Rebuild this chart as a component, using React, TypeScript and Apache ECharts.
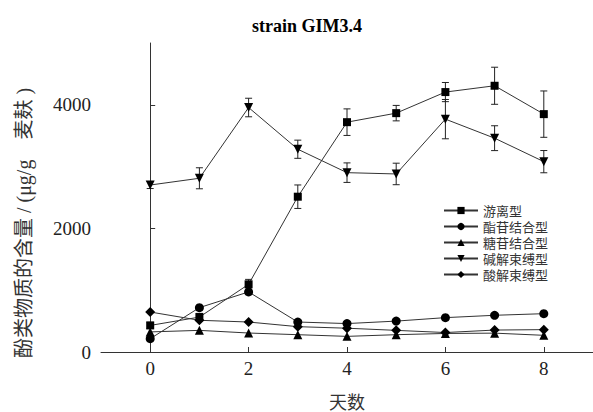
import React, { useEffect, useRef } from "react";
import * as echarts from "echarts";

const days = [0, 1, 2, 3, 4, 5, 6, 7, 8];
const seriesNames = ["游离型", "酯苷结合型", "糖苷结合型", "碱解束缚型", "酸解束缚型"];
const freeVals = [430, 565, 1095, 2513, 3719, 3865, 4206, 4308, 3849];
const freeErr = [50, 60, 80, 190, 215, 125, 155, 300, 375];
const esterVals = [215, 718, 972, 485, 460, 500, 556, 594, 620];
const glycoVals = [325, 350, 307, 280, 253, 280, 300, 305, 270];
const alkaliVals = [2702, 2811, 3956, 3281, 2902, 2881, 3768, 3460, 3080];
const alkaliErr = [57, 170, 150, 147, 158, 174, 318, 201, 180];
const acidVals = [647, 513, 485, 410, 385, 350, 315, 355, 362];
const xTicks = [0, 2, 4, 6, 8];
const yTicks = [0, 2000, 4000];

const SERIF = "'Liberation Serif', 'Noto Sans CJK SC', serif";
const CJK = "'Noto Sans CJK SC', sans-serif";

function pairs(vals: number[]) {
  return days.map((d, i) => [d, vals[i]]);
}
function errPairs(vals: number[], errs: number[]) {
  return days.map((d, i) => [d, vals[i], errs[i]]);
}

const errorRender = (params: any, api: any) => {
  const x = api.value(0);
  const y = api.value(1);
  const e = api.value(2);
  const top = api.coord([x, y + e]);
  const bot = api.coord([x, y - e]);
  const hw = 3.5;
  const style = { stroke: "#222", lineWidth: 1 };
  return {
    type: "group",
    children: [
      { type: "line", shape: { x1: top[0], y1: top[1], x2: bot[0], y2: bot[1] }, style },
      { type: "line", shape: { x1: top[0] - hw, y1: top[1], x2: top[0] + hw, y2: top[1] }, style },
      { type: "line", shape: { x1: bot[0] - hw, y1: bot[1], x2: bot[0] + hw, y2: bot[1] }, style },
    ],
  };
};

export default function App() {
  const ref = useRef<HTMLDivElement>(null);
  useEffect(() => {
    if (!ref.current) return;
    document.body.style.margin = "0";
    const chart = echarts.init(ref.current, null, { renderer: "svg" });
    const lineBase = (name: string, vals: number[], symbol: string, size: number | number[], rotate = 0) => ({
      name,
      type: "line",
      data: pairs(vals),
      symbol,
      symbolSize: size,
      symbolRotate: rotate,
      showSymbol: true,
      lineStyle: { color: "#333", width: 1 },
      itemStyle: { color: "#000", borderWidth: 0 },
      z: 3,
    });
    chart.setOption({
      animation: false,
      title: {
        text: "strain GIM3.4",
        left: 302,
        top: 12,
        textAlign: "center",
        textStyle: { fontFamily: SERIF, fontWeight: "bold", fontSize: 18, color: "#000" },
      },
      grid: { left: 101, right: 0, top: 43, bottom: 60, containLabel: false, outerBoundsMode: "none" },
      legend: {
        data: seriesNames,
        orient: "vertical",
        left: 443,
        top: 204,
        padding: 0,
        itemWidth: 34,
        itemHeight: 9,
        itemGap: 3,
        textStyle: { fontFamily: CJK, fontSize: 13, lineHeight: 12, color: "#333", padding: [0, 0, 0, 0] },
      },
      xAxis: {
        type: "value",
        min: -1,
        max: 9,
        name: "天数",
        nameLocation: "middle",
        nameGap: 40,
        nameTextStyle: { fontFamily: CJK, fontSize: 18, lineHeight: 18, color: "#333" },
        axisLine: { show: true, lineStyle: { color: "#333", width: 1 } },
        axisTick: { show: true, inside: true, length: 5, customValues: xTicks, lineStyle: { color: "#333" } },
        axisLabel: {
          customValues: xTicks,
          formatter: (v: number) => String(v),
          fontFamily: SERIF,
          fontSize: 19,
          color: "#222",
          margin: 7,
        },
        splitLine: { show: false },
      },
      yAxis: {
        type: "value",
        min: 0,
        max: 5000,
        axisLine: { show: true, lineStyle: { color: "#333", width: 1 } },
        axisTick: { show: true, inside: true, length: 5, customValues: yTicks, lineStyle: { color: "#333" } },
        axisLabel: {
          customValues: yTicks,
          formatter: (v: number) => String(v),
          fontFamily: SERIF,
          fontSize: 19,
          color: "#222",
          margin: 10,
        },
        splitLine: { show: false },
      },
      graphic: [
        {
          type: "text",
          x: 24,
          y: 223,
          rotation: Math.PI / 2,
          style: {
            text: "酚类物质的含量 / (μg/g\u3000麦麸 )",
            fontFamily: SERIF,
            fontSize: 20,
            fill: "#333",
            align: "center",
            verticalAlign: "middle",
          },
        },
      ],
      series: [
        {
          name: "freeErr",
          type: "custom",
          renderItem: errorRender,
          data: errPairs(freeVals, freeErr),
          encode: { x: 0, y: 1 },
          z: 2,
        },
        {
          name: "alkaliErr",
          type: "custom",
          renderItem: errorRender,
          data: errPairs(alkaliVals, alkaliErr),
          encode: { x: 0, y: 1 },
          z: 2,
        },
        lineBase(seriesNames[0], freeVals, "rect", 8),
        lineBase(seriesNames[1], esterVals, "circle", 9),
        lineBase(seriesNames[2], glycoVals, "triangle", 9),
        lineBase(seriesNames[3], alkaliVals, "triangle", 9, 180),
        lineBase(seriesNames[4], acidVals, "diamond", [10, 10]),
      ],
    });
    return () => chart.dispose();
  }, []);
  return <div ref={ref} style={{ width: 593, height: 412 }} />;
}
